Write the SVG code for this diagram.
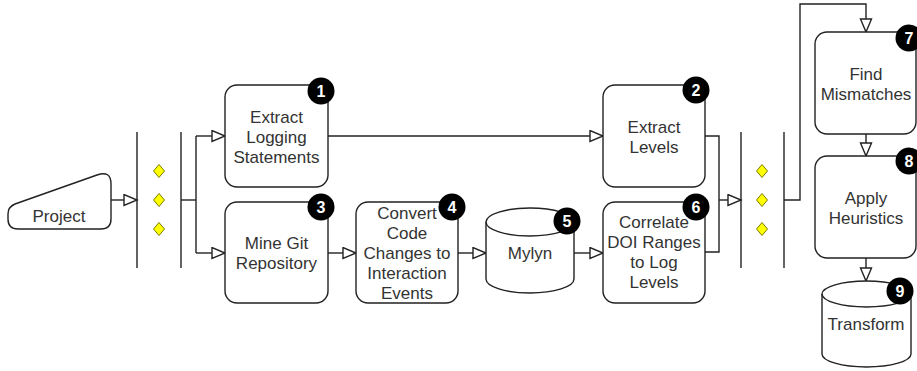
<svg xmlns="http://www.w3.org/2000/svg" width="917" height="371" viewBox="0 0 917 371">
<defs>
<style>
.n{fill:#fff;stroke:#222;stroke-width:1.4}
.t{font-family:"Liberation Sans",Arial,sans-serif;font-size:17px;fill:#333;text-anchor:middle}
.b{fill:#000}
.bt{font-family:"Liberation Sans",Arial,sans-serif;font-size:16px;font-weight:bold;fill:#fff;text-anchor:middle}
.c{fill:none;stroke:#222;stroke-width:1.4}
.bar{stroke:#222;stroke-width:1.4}
.d{fill:#ffff00;stroke:#7a7a00;stroke-width:1}
</style>
<marker id="a" viewBox="-1 -1 16 14" refX="13" refY="5.5" markerWidth="16" markerHeight="14" markerUnits="userSpaceOnUse" orient="auto">
<path d="M0,0 L13,5.5 L0,11 Z" fill="#fff" stroke="#222" stroke-width="1.4"/>
</marker>
</defs>
<rect width="917" height="371" fill="#fff"/>

<g id="connectors">
<path class="c" d="M111,200 L137,200" marker-end="url(#a)"/>
<path class="c" d="M181,200 L196,200"/>
<path class="c" d="M196,136 L196,253"/>
<path class="c" d="M196,136 L225,136" marker-end="url(#a)"/>
<path class="c" d="M196,253 L225,253" marker-end="url(#a)"/>
<path class="c" d="M328,136 L603,136" marker-end="url(#a)"/>
<path class="c" d="M328,253 L356,253" marker-end="url(#a)"/>
<path class="c" d="M458,253 L486,253" marker-end="url(#a)"/>
<path class="c" d="M574,253 L603,253" marker-end="url(#a)"/>
<path class="c" d="M705,136 L719,136 L719,252 L705,252"/>
<path class="c" d="M719,200 L741,200" marker-end="url(#a)"/>
<path class="c" d="M784,200 L800,200 L800,4 L866,4 L866,32" marker-end="url(#a)"/>
<path class="c" d="M866,134 L866,156" marker-end="url(#a)"/>
<path class="c" d="M866,258 L866,281" marker-end="url(#a)"/>
</g>

<g id="gateway-split">
<line class="bar" x1="137" y1="132" x2="137" y2="268"/>
<line class="bar" x1="181" y1="132" x2="181" y2="268"/>
<polygon class="d" points="159,164.5 164.5,171 159,177.5 153.5,171"/>
<polygon class="d" points="159,193.5 164.5,200 159,206.5 153.5,200"/>
<polygon class="d" points="159,222.5 164.5,229 159,235.5 153.5,229"/>
</g>

<g id="gateway-join">
<line class="bar" x1="741" y1="132" x2="741" y2="268"/>
<line class="bar" x1="784" y1="132" x2="784" y2="268"/>
<polygon class="d" points="762,164.5 767.5,171 762,177.5 756.5,171"/>
<polygon class="d" points="762,193.5 767.5,200 762,206.5 756.5,200"/>
<polygon class="d" points="762,222.5 767.5,229 762,235.5 756.5,229"/>
</g>

<g id="project">
<path class="n" d="M18,229 Q8,229 8,219 L8,214 Q8,207 15,204 L97,175 Q111,170 111,184 L111,219 Q111,229 101,229 Z"/>
<text class="t" x="59" y="222">Project</text>
</g>

<g id="node1">
<rect class="n" x="225" y="85" width="103" height="102" rx="12"/>
<text class="t" x="276.5" y="123">Extract</text>
<text class="t" x="276.5" y="143">Logging</text>
<text class="t" x="276.5" y="163">Statements</text>
<circle class="b" cx="321" cy="91" r="13.5"/>
<text class="bt" x="321" y="97">1</text>
</g>

<g id="node2">
<rect class="n" x="603" y="85" width="102" height="102" rx="12"/>
<text class="t" x="654" y="133">Extract</text>
<text class="t" x="654" y="153">Levels</text>
<circle class="b" cx="696" cy="90" r="13.5"/>
<text class="bt" x="696" y="96">2</text>
</g>

<g id="node3">
<rect class="n" x="225" y="202" width="103" height="101" rx="12"/>
<text class="t" x="276.5" y="249">Mine Git</text>
<text class="t" x="276.5" y="269">Repository</text>
<circle class="b" cx="321" cy="207" r="13.5"/>
<text class="bt" x="321" y="213">3</text>
</g>

<g id="node4">
<rect class="n" x="356" y="202" width="102" height="101" rx="12"/>
<text class="t" x="407" y="219">Convert</text>
<text class="t" x="407" y="239">Code</text>
<text class="t" x="407" y="259">Changes to</text>
<text class="t" x="407" y="279">Interaction</text>
<text class="t" x="407" y="299">Events</text>
<circle class="b" cx="452" cy="207" r="13.5"/>
<text class="bt" x="452" y="213">4</text>
</g>

<g id="node5">
<path class="n" d="M486,222 A44,14 0 0 1 574,222 L574,279 A44,14 0 0 1 486,279 Z"/>
<path class="c" d="M486,222 A44,14 0 0 0 574,222"/>
<text class="t" x="530" y="259">Mylyn</text>
<circle class="b" cx="567" cy="221" r="13.5"/>
<text class="bt" x="567" y="227">5</text>
</g>

<g id="node6">
<rect class="n" x="603" y="202" width="102" height="101" rx="12"/>
<text class="t" x="654" y="228">Correlate</text>
<text class="t" x="654" y="248">DOI Ranges</text>
<text class="t" x="654" y="268">to Log</text>
<text class="t" x="654" y="288">Levels</text>
<circle class="b" cx="696" cy="207" r="13.5"/>
<text class="bt" x="696" y="213">6</text>
</g>

<g id="node7">
<rect class="n" x="815" y="32" width="101" height="102" rx="12"/>
<text class="t" x="866" y="80">Find</text>
<text class="t" x="866" y="100">Mismatches</text>
<circle class="b" cx="909" cy="38" r="13.5"/>
<text class="bt" x="909" y="44">7</text>
</g>

<g id="node8">
<rect class="n" x="815" y="156" width="101" height="102" rx="12"/>
<text class="t" x="866" y="204">Apply</text>
<text class="t" x="866" y="224">Heuristics</text>
<circle class="b" cx="909" cy="161" r="13.5"/>
<text class="bt" x="909" y="167">8</text>
</g>

<g id="node9">
<path class="n" d="M822,294 A44.5,13 0 0 1 911,294 L911,354 A44.5,13 0 0 1 822,354 Z"/>
<path class="c" d="M822,294 A44.5,13 0 0 0 911,294"/>
<text class="t" x="866" y="330">Transform</text>
<circle class="b" cx="900" cy="291" r="13.5"/>
<text class="bt" x="900" y="297">9</text>
</g>
</svg>
